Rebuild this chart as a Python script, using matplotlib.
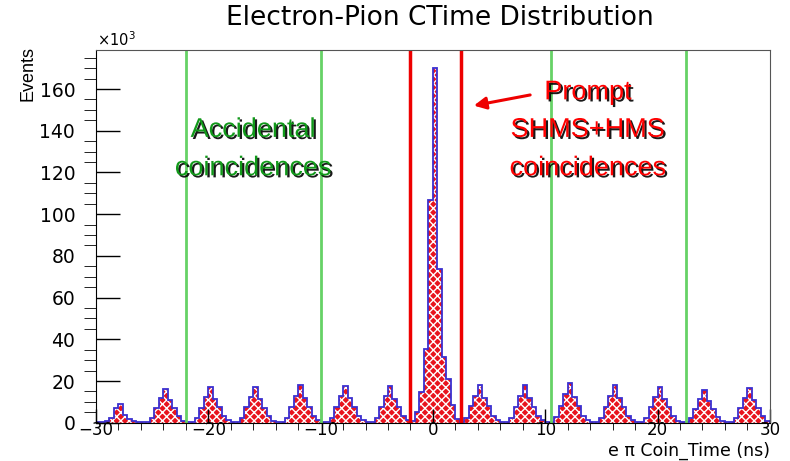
import numpy as np
import matplotlib.pyplot as plt
import matplotlib.patheffects as pe
from matplotlib.ticker import MultipleLocator

plt.rcParams['font.family'] = ['DejaVu Sans']
plt.rcParams['hatch.linewidth'] = 1.0

# histogram definition: 150 bins of 0.4 ns from -30 to 30 ns
n_bins = 150
t_min, t_max = -30.0, 30.0
baseline = 0.3  # x10^3 events between bunches

# counts (x10^3) per bunch, first bin index of each bunch
peak_first_bin = [2, 12, 22, 32, 42, 52, 62, 70, 82, 92, 102, 112, 122, 132, 142]
peak_counts = [
    [0.7, 2.3, 7.0, 8.8, 3.7, 1.9, 0.6, 0.3],
    [2.2, 7.0, 11.8, 16.4, 10.9, 7.0, 3.0, 1.0],
    [2.4, 7.3, 12.4, 17.2, 11.3, 7.4, 3.1, 1.1],
    [2.3, 7.4, 12.2, 17.2, 11.5, 7.2, 3.2, 1.0],
    [2.5, 7.7, 12.9, 18.0, 11.8, 7.6, 3.3, 1.1],
    [2.4, 7.6, 12.7, 17.7, 11.7, 7.5, 3.2, 1.1],
    [2.3, 7.5, 12.8, 17.7, 11.6, 7.7, 3.3, 1.2],
    [1.0, 5.0, 14.8, 35.4, 107.0, 170.0, 73.8, 31.6, 21.0, 8.5, 2.0],
    [2.5, 7.8, 13.0, 18.3, 12.0, 7.8, 3.3, 1.1],
    [2.4, 7.6, 12.9, 18.0, 11.9, 7.7, 3.3, 1.1],
    [2.6, 8.1, 13.6, 19.0, 12.5, 8.0, 3.4, 1.2],
    [2.4, 7.7, 12.9, 18.0, 11.9, 7.6, 3.2, 1.1],
    [2.3, 7.4, 12.4, 17.2, 11.3, 7.4, 3.1, 1.0],
    [2.1, 6.7, 11.2, 15.6, 10.3, 6.7, 2.8, 1.0],
    [2.2, 7.1, 12.0, 16.7, 11.0, 7.2, 3.0, 1.0],
]

prompt_cuts = [-2.0, 2.5]
accidental_cuts = [-22.0, -10.0, 10.5, 22.5]

edges = np.linspace(t_min, t_max, n_bins + 1)
counts = np.full(n_bins, baseline)
for first, vals in zip(peak_first_bin, peak_counts):
    counts[first:first + len(vals)] = vals

fig = plt.figure(figsize=(7.9, 4.61), dpi=100)
ax = fig.add_axes([0.1215, 0.083, 0.853, 0.8085])

ax.stairs(counts, edges, fill=True, facecolor='#e8141e', edgecolor='white',
          hatch='xxxx', linewidth=0)
ax.stairs(counts, edges, color='#3a2fd0', linewidth=1.3)

for x in accidental_cuts:
    ax.axvline(x, color='#66d266', lw=2)
for x in prompt_cuts:
    ax.axvline(x, color='#ee0000', lw=2.5)

ax.set_xlim(t_min, t_max)
ax.set_ylim(0, 178.7)
ax.xaxis.set_major_locator(MultipleLocator(10))
ax.xaxis.set_minor_locator(MultipleLocator(2))
ax.yaxis.set_major_locator(MultipleLocator(20))
ax.yaxis.set_minor_locator(MultipleLocator(5))
ax.tick_params(direction='in', width=1)
ax.tick_params(axis='x', which='major', length=10, pad=-1.5, labelsize=12)
ax.tick_params(axis='x', which='minor', length=5)
ax.tick_params(axis='y', which='major', length=17, pad=15, labelsize=13.5)
ax.tick_params(axis='y', which='minor', length=9)
for s in ['top', 'right']:
    ax.spines[s].set_color('#555555')

fig.text(0.557, 0.961, 'Electron-Pion CTime Distribution', ha='center', va='center',
         fontsize=19)
fig.text(0.035, 0.84, 'Events', rotation=90, ha='center', va='center', fontsize=13,
         family=['Liberation Sans Narrow', 'Liberation Sans'])
fig.text(0.123, 0.893, r'$\times$10$^3$', ha='left', va='bottom', fontsize=10.5)
fig.text(0.975, 0.003, 'e π Coin_Time (ns)', ha='right', va='bottom', fontsize=12.5)

shadow = [pe.withSimplePatchShadow(offset=(1.5, -1.5), shadow_rgbFace='black', alpha=0.9)]
narrow = ['Liberation Sans Narrow', 'Liberation Sans']
for txt, y in zip(['Accidental', 'coincidences'], [140.4, 122.0]):
    ax.text(-16.0, y, txt, color='#11991a', fontsize=19.5, ha='center', va='center',
            family=narrow, path_effects=shadow)
for txt, y in zip(['Prompt', 'SHMS+HMS', 'coincidences'], [158.4, 140.4, 122.0]):
    ax.text(13.8, y, txt, color='#ff0000', fontsize=19.5, ha='center', va='center',
            family=narrow, path_effects=shadow)

ax.annotate('', xy=(3.4, 151.8), xytext=(8.9, 157.4),
            arrowprops=dict(arrowstyle='-|>', color='#ee0000', lw=2.2, mutation_scale=18))

fig.savefig('out.png', dpi=100)
